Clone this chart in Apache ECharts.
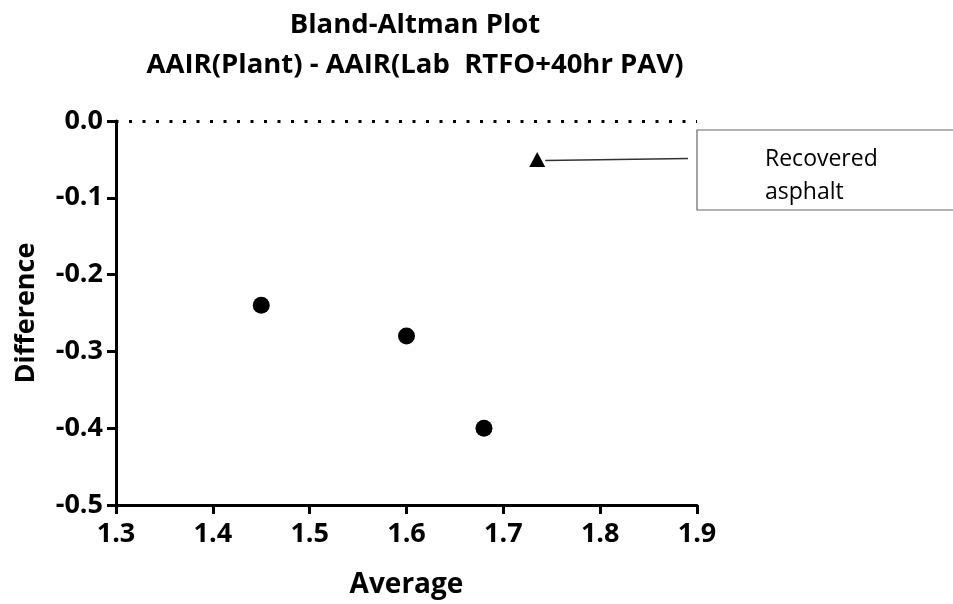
<!DOCTYPE html>
<html>
<head>
<meta charset="utf-8">
<script src="https://cdn.jsdelivr.net/npm/echarts@6/dist/echarts.min.js"></script>
<style>
  html, body { margin: 0; padding: 0; background: #fff; }
  #chart { width: 953px; height: 604px; }
</style>
</head>
<body>
<div id="chart"></div>
<script>
// Bland-Altman data: average of the two methods vs. their difference
const plantAverage = [1.45, 1.60, 1.68];
const plantDifference = [-0.24, -0.28, -0.40];
const recoveredAverage = [1.735];
const recoveredDifference = [-0.05];
const xTicks = [1.3, 1.4, 1.5, 1.6, 1.7, 1.8, 1.9];
const yTicks = [0.0, -0.1, -0.2, -0.3, -0.4, -0.5];
const titleLines = ['Bland-Altman Plot', 'AAIR(Plant) - AAIR(Lab  RTFO+40hr PAV)'];
const noteLines = ['Recovered', 'asphalt'];

const FONT = '"Open Sans", "Liberation Sans", sans-serif';
const chart = echarts.init(document.getElementById('chart'));

const axisCommon = {
  axisLine: { show: true, onZero: false, lineStyle: { color: '#000', width: 3 } },
  axisTick: { show: true, inside: false, length: 9, lineStyle: { color: '#000', width: 3 } },
  splitLine: { show: false },
  axisLabel: { color: '#000', fontFamily: FONT, fontWeight: 'bold', fontSize: 27 }
};

chart.setOption({
  animation: false,
  backgroundColor: '#fff',
  title: {
    text: titleLines.join('\n'),
    left: 410,
    textAlign: 'center',
    top: 0,
    textStyle: { fontFamily: FONT, fontWeight: 'bold', fontSize: 27.5, color: '#000', lineHeight: 40 }
  },
  grid: { left: 116, right: 256, top: 121, bottom: 98 },
  xAxis: Object.assign({}, axisCommon, {
    type: 'value',
    min: xTicks[0],
    max: xTicks[xTicks.length - 1],
    interval: 0.1,
    name: 'Average',
    nameLocation: 'middle',
    nameGap: 66,
    nameTextStyle: { color: '#000', fontFamily: FONT, fontWeight: 'bold', fontSize: 28 },
    axisLabel: Object.assign({}, axisCommon.axisLabel, {
      margin: 16,
      formatter: v => v.toFixed(1)
    })
  }),
  yAxis: Object.assign({}, axisCommon, {
    type: 'value',
    min: yTicks[yTicks.length - 1],
    max: yTicks[0],
    interval: 0.1,
    name: 'Difference',
    nameLocation: 'middle',
    nameGap: 76,
    nameTextStyle: { color: '#000', fontFamily: FONT, fontWeight: 'bold', fontSize: 27 },
    axisLabel: Object.assign({}, axisCommon.axisLabel, {
      margin: 13,
      formatter: v => v.toFixed(1)
    })
  }),
  series: [
    {
      name: 'Plant',
      type: 'scatter',
      symbol: 'circle',
      symbolSize: 17,
      itemStyle: { color: '#000', opacity: 1 },
      data: plantAverage.map((x, i) => [x, plantDifference[i]]),
      markLine: {
        silent: true,
        symbol: 'none',
        label: { show: false },
        lineStyle: { color: '#000', width: 3, type: [3, 10.5], dashOffset: -13 },
        data: [{ yAxis: 0 }]
      }
    },
    {
      name: 'Recovered asphalt',
      type: 'scatter',
      symbol: 'triangle',
      symbolSize: [16, 15],
      itemStyle: { color: '#000', opacity: 1 },
      data: recoveredAverage.map((x, i) => [x, recoveredDifference[i]])
    }
  ]
});

// Callout box with a leader line to the recovered-asphalt point
const pt = chart.convertToPixel({ seriesIndex: 1 }, [recoveredAverage[0], recoveredDifference[0]]);
const boxLeft = 697, boxTop = 130, boxWidth = 258, boxHeight = 80;
chart.setOption({
  graphic: [
    {
      type: 'rect',
      shape: { x: boxLeft, y: boxTop, width: boxWidth, height: boxHeight },
      style: { fill: '#fff', stroke: '#666', lineWidth: 1.2 },
      z: 10
    },
    {
      type: 'text',
      x: 765,
      y: 176,
      style: {
        text: noteLines.join('\n'),
        font: '23px "Open Sans", "Liberation Sans", sans-serif',
        fill: '#000',
        lineHeight: 33,
        verticalAlign: 'middle'
      },
      z: 11
    },
    {
      type: 'line',
      shape: { x1: pt[0] + 8, y1: pt[1] + 1, x2: boxLeft - 9, y2: pt[1] - 1 },
      style: { stroke: '#333', lineWidth: 1.5 },
      z: 10
    }
  ]
});
</script>
</body>
</html>
